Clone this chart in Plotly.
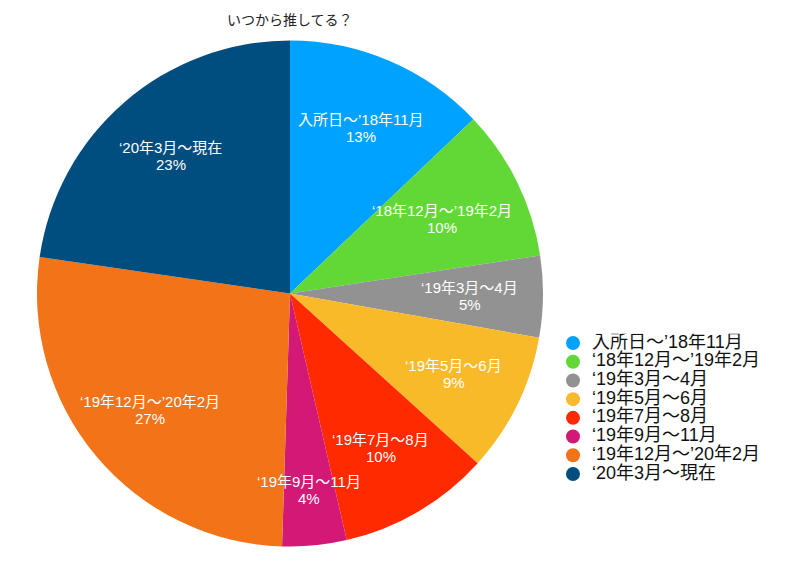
import math
import plotly.graph_objects as go

labels = ["入所日〜’18年11月", "‘18年12月〜’19年2月", "‘19年3月〜4月", "‘19年5月〜6月",
          "‘19年7月〜8月", "‘19年9月〜11月", "‘19年12月〜’20年2月", "‘20年3月〜現在"]
values = [12.9, 9.7, 5.2, 8.9, 9.7, 4.1, 26.8, 22.7]
colors = ["#00A2FF", "#61D836", "#929292", "#F9BA2A", "#FF2A00", "#D31876", "#F27318", "#004D80"]
label_r = [0.71, 0.67, 0.71, 0.72, 0.71, 0.78, 0.72, 0.72]
title = "いつから推してる？"

W, H = 800, 564
FONT = "Liberation Sans, Noto Sans CJK JP, sans-serif"

dom_x = [37 / W, 543 / W]
dom_y = [1 - 547 / H, 1 - 40 / H]
cx_px = (dom_x[0] + dom_x[1]) / 2 * W
cy_px = (1 - (dom_y[0] + dom_y[1]) / 2) * H
R = min((dom_x[1] - dom_x[0]) * W, (dom_y[1] - dom_y[0]) * H) / 2

fig = go.Figure()
fig.add_trace(go.Pie(
    labels=labels, values=values, sort=False, direction="clockwise", rotation=0,
    marker=dict(colors=colors, line=dict(width=0)),
    textinfo="none", hoverinfo="label+percent", showlegend=False,
    domain=dict(x=dom_x, y=dom_y),
))

# custom legend (circle markers, tight spacing) on a hidden axis
n = len(labels)
idx = list(range(n))
fig.add_trace(go.Scatter(x=[13] * n, y=idx, mode="markers", hoverinfo="skip",
                         marker=dict(size=14, color=colors, symbol="circle"),
                         showlegend=False, xaxis="x", yaxis="y"))
fig.add_trace(go.Scatter(x=[32] * n, y=idx, mode="text", text=labels,
                         textposition="middle right", hoverinfo="skip",
                         textfont=dict(size=18, color="#111111", family=FONT),
                         showlegend=False, xaxis="x", yaxis="y"))

item_h = (474 - 343) / (n - 1)
top_px = 343 - item_h / 2
bot_px = 474 + item_h / 2

total = sum(values)
cum = 0
annotations = []
for lab, v, rf in zip(labels, values, label_r):
    mid = (cum + v / 2) / total * 2 * math.pi
    cum += v
    x_px = cx_px + rf * R * math.sin(mid)
    y_px = cy_px - rf * R * math.cos(mid)
    pct = round(v / total * 100)
    for txt, dy in ((lab, -8.5), (f"{pct}%", 8.5)):
        annotations.append(dict(
            x=x_px / W, y=1 - (y_px + dy) / H, xref="paper", yref="paper",
            xanchor="center", yanchor="middle",
            text=txt, showarrow=False,
            font=dict(color="white", size=15, family=FONT),
        ))

annotations.append(dict(x=290 / W, y=1 - 20 / H, xref="paper", yref="paper",
                        xanchor="center", yanchor="middle",
                        text=title, showarrow=False,
                        font=dict(color="#222222", size=14, family=FONT)))

fig.update_layout(
    width=W, height=H, margin=dict(l=0, r=0, t=0, b=0),
    paper_bgcolor="white", plot_bgcolor="rgba(0,0,0,0)",
    xaxis=dict(visible=False, domain=[560 / W, 1.0], range=[0, 240], fixedrange=True),
    yaxis=dict(visible=False, domain=[1 - bot_px / H, 1 - top_px / H],
               range=[n - 0.5, -0.5], fixedrange=True),
    annotations=annotations,
    showlegend=False,
    font=dict(family=FONT),
)

fig.write_html("out.html")
